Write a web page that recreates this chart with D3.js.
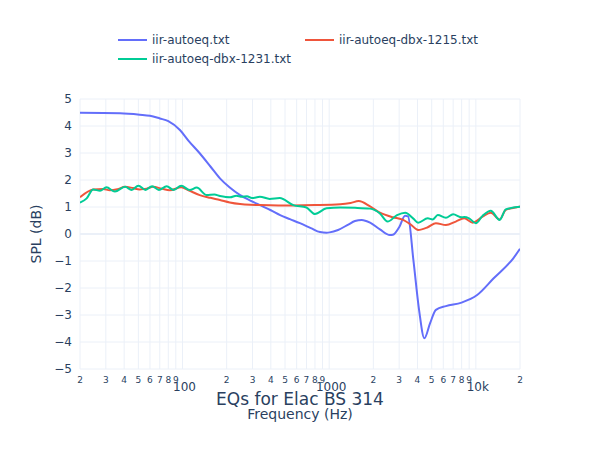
<!DOCTYPE html>
<html>
<head>
<meta charset="utf-8">
<script src="https://cdn.jsdelivr.net/npm/d3@7"></script>
<style>
  body { margin: 0; background: #fff; }
  text { font-family: "DejaVu Sans", Verdana, sans-serif; fill: #2a3f5f; }
</style>
</head>
<body>
<div id="chart"></div>
<script>
// series names and colours
var seriesNames = ["iir-autoeq.txt", "iir-autoeq-dbx-1215.txt", "iir-autoeq-dbx-1231.txt"];
var seriesColors = ["#636efa", "#EF553B", "#00cc96"];

// iir-autoeq.txt
var autoeqFreq = [20, 37.5, 51, 60, 70, 80, 96, 110, 131, 155, 180, 210, 247, 290, 337, 400, 463, 540, 632, 750, 866, 960, 1007, 1150, 1350, 1500, 1667, 1900, 2218, 2594, 2720, 3000, 3290, 3450, 3750, 4100, 4456, 4870, 5340, 6250, 7990, 10200, 13230, 18000, 20000];
var autoeqVal  = [4.49, 4.47, 4.42, 4.38, 4.28, 4.18, 3.85, 3.45, 2.99, 2.5, 2.06, 1.72, 1.44, 1.24, 1.07, 0.88, 0.70, 0.55, 0.40, 0.22, 0.07, 0.05, 0.06, 0.15, 0.35, 0.48, 0.52, 0.42, 0.17, -0.04, -0.03, 0.25, 0.68, 0.65, -0.96, -2.81, -3.86, -3.31, -2.81, -2.67, -2.54, -2.26, -1.64, -0.90, -0.55];

// iir-autoeq-dbx-1215.txt
var dbx1215Freq = [20, 24.6, 28.8, 31.9, 36, 40.6, 46, 51, 57, 63, 72, 82, 98, 110, 131, 155, 180, 210, 247, 290, 337, 450, 570, 800, 1190, 1400, 1590, 1900, 2218, 2720, 3130, 3600, 4040, 4700, 5340, 6250, 7300, 8330, 9530, 11100, 12650, 14530, 16000, 19000, 20000];
var dbx1215Val  = [1.36, 1.65, 1.67, 1.62, 1.66, 1.75, 1.70, 1.65, 1.68, 1.75, 1.68, 1.62, 1.73, 1.62, 1.44, 1.34, 1.26, 1.17, 1.11, 1.08, 1.07, 1.06, 1.06, 1.07, 1.10, 1.15, 1.22, 1.02, 0.79, 0.62, 0.54, 0.35, 0.15, 0.25, 0.40, 0.33, 0.46, 0.58, 0.42, 0.64, 0.79, 0.54, 0.89, 0.99, 1.02];

// iir-autoeq-dbx-1231.txt
var dbx1231Freq = [20, 22.2, 24.6, 27.4, 30.3, 34.6, 40.6, 45, 50, 56, 62, 69, 78, 87, 98, 112, 125, 146, 165, 180, 211, 233, 254, 275, 297, 337, 393, 460, 570, 700, 800, 960, 1190, 1500, 1900, 2218, 2500, 2900, 3300, 3750, 4040, 4700, 5070, 5500, 6250, 7000, 8000, 8330, 9000, 10000, 11100, 12650, 14530, 16000, 20000];
var dbx1231Val  = [1.16, 1.32, 1.65, 1.60, 1.73, 1.57, 1.75, 1.63, 1.79, 1.63, 1.77, 1.63, 1.77, 1.63, 1.79, 1.63, 1.72, 1.44, 1.46, 1.41, 1.36, 1.42, 1.38, 1.40, 1.33, 1.38, 1.30, 1.33, 1.07, 0.98, 0.74, 0.95, 0.98, 0.97, 0.94, 0.76, 0.46, 0.70, 0.79, 0.57, 0.42, 0.58, 0.54, 0.70, 0.60, 0.73, 0.62, 0.63, 0.58, 0.40, 0.67, 0.86, 0.52, 0.91, 1.01];

// axis ticks
var yTicks = [5, 4, 3, 2, 1, 0, -1, -2, -3, -4, -5];
var majorTicks = [100, 1000, 10000];
var majorLabels = ["100", "1000", "10k"];

var allFreq = [autoeqFreq, dbx1215Freq, dbx1231Freq];
var allVal = [autoeqVal, dbx1215Val, dbx1231Val];

var W = 600, H = 450;
var margin = {top: 99, right: 80, bottom: 81, left: 80},
    width = W - margin.left - margin.right,
    height = H - margin.top - margin.bottom;

var svg = d3.select("#chart")
  .append("svg")
    .attr("width", W)
    .attr("height", H);

var g = svg.append("g")
    .attr("transform", "translate(" + margin.left + "," + margin.top + ")");

var x = d3.scaleLog()
  .domain([20, 20000])
  .range([0, width]);

var y = d3.scaleLinear()
  .domain([-5, 5])
  .range([height, 0]);

// every digit tick across the decades
var digitTicks = [];
[10, 100, 1000, 10000].forEach(function(dec) {
  for (var k = 1; k <= 9; k++) {
    var v = dec * k;
    if (v >= 20 && v <= 20000) digitTicks.push(v);
  }
});

// grid lines
g.append("g")
  .selectAll("line")
  .data(digitTicks)
  .enter()
  .append("line")
    .attr("x1", function(d) { return x(d); })
    .attr("x2", function(d) { return x(d); })
    .attr("y1", 0)
    .attr("y2", height)
    .attr("stroke", "#EBF0F8")
    .attr("stroke-width", 1);

g.append("g")
  .selectAll("line")
  .data(yTicks)
  .enter()
  .append("line")
    .attr("x1", 0)
    .attr("x2", width)
    .attr("y1", function(d) { return y(d); })
    .attr("y2", function(d) { return y(d); })
    .attr("stroke", "#EBF0F8")
    .attr("stroke-width", function(d) { return d === 0 ? 2 : 1; });

// y tick labels
g.append("g")
  .selectAll("text")
  .data(yTicks)
  .enter()
  .append("text")
    .attr("x", -8)
    .attr("y", function(d) { return y(d); })
    .attr("dy", "0.35em")
    .attr("text-anchor", "end")
    .style("font-size", "12px")
    .text(function(d) { return d < 0 ? "\u2212" + Math.abs(d) : d; });

// x tick labels: small digits, larger decades
g.append("g")
  .selectAll("text")
  .data(digitTicks.filter(function(d) { return majorTicks.indexOf(d) < 0; }))
  .enter()
  .append("text")
    .attr("x", function(d) { return x(d); })
    .attr("y", height + 14)
    .attr("text-anchor", "middle")
    .style("font-size", "9px")
    .text(function(d) { return String(d).charAt(0); });

g.append("g")
  .selectAll("text")
  .data(majorTicks)
  .enter()
  .append("text")
    .attr("x", function(d) { return x(d) + 2; })
    .attr("y", height + 22)
    .attr("text-anchor", "middle")
    .style("font-size", "12px")
    .text(function(d, i) { return majorLabels[i]; });

// lines
var line = d3.line()
  .curve(d3.curveMonotoneX)
  .x(function(d) { return x(d[0]); })
  .y(function(d) { return y(d[1]); });

svg.append("clipPath").attr("id", "clip")
  .append("rect").attr("width", width).attr("height", height);

g.append("g")
  .attr("clip-path", "url(#clip)")
  .selectAll("path")
  .data([0, 1, 2])
  .enter()
  .append("path")
    .attr("d", function(i) { return line(d3.zip(allFreq[i], allVal[i])); })
    .attr("fill", "none")
    .attr("stroke", function(i) { return seriesColors[i]; })
    .attr("stroke-width", 2);

// axis titles
svg.append("text")
  .attr("x", margin.left + width / 2)
  .attr("y", 405)
  .attr("text-anchor", "middle")
  .style("font-size", "17px")
  .text("EQs for Elac BS 314");

svg.append("text")
  .attr("x", margin.left + width / 2)
  .attr("y", 419)
  .attr("text-anchor", "middle")
  .style("font-size", "14px")
  .text("Frequency (Hz)");

svg.append("text")
  .attr("transform", "translate(41," + (margin.top + height / 2) + ") rotate(-90)")
  .attr("text-anchor", "middle")
  .style("font-size", "14px")
  .text("SPL (dB)");

// legend
var legendPos = [[118, 40], [305, 40], [118, 59]];
var legend = svg.append("g")
  .selectAll("g")
  .data(seriesNames)
  .enter()
  .append("g")
    .attr("transform", function(d, i) { return "translate(" + legendPos[i][0] + "," + legendPos[i][1] + ")"; });

legend.append("line")
  .attr("x1", 0).attr("x2", 29)
  .attr("y1", 0).attr("y2", 0)
  .attr("stroke", function(d, i) { return seriesColors[i]; })
  .attr("stroke-width", 2);

legend.append("text")
  .attr("x", 34)
  .attr("y", 0)
  .attr("dy", "0.35em")
  .style("font-size", "12px")
  .text(function(d) { return d; });
</script>
</body>
</html>
